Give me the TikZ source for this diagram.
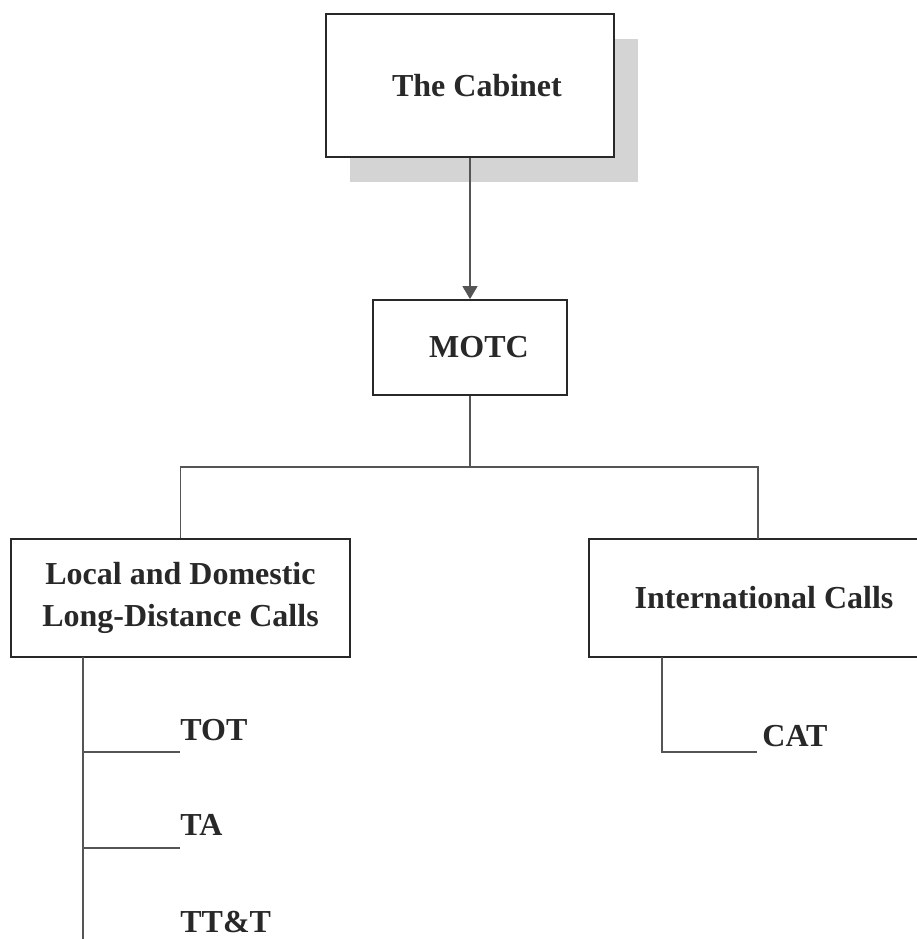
\documentclass[tikz,border=0pt]{standalone}
\usepackage{fontspec}
\setmainfont{Liberation Serif}
\definecolor{encre}{RGB}{40,40,40}
\definecolor{trait}{RGB}{85,85,85}
\definecolor{ombre}{RGB}{212,212,212}
\usepackage{tikz}
\usetikzlibrary{arrows.meta,positioning,calc,shadows}

\begin{document}
\begin{tikzpicture}[x=0.5pt,y=-0.5pt,
	font=\bfseries\fontsize{16}{21}\selectfont,
	boite/.style={draw=encre,line width=0.9pt,fill=white,text=encre,align=center,inner sep=0pt},
	lien/.style={draw=trait,line width=0.65pt},
	feuille/.style={text=encre,inner sep=0pt,anchor=base west}]
					\useasboundingbox (0,0) rectangle (917,939);
					\clip (0,0) rectangle (917,939);
					
					%% Cabinet (ombre en bas a droite)
					\node[boite,minimum width=144pt,minimum height=71.5pt,
					drop shadow={shadow xshift=12pt,shadow yshift=-12.5pt,fill=ombre,opacity=1}]
					(cab) at (470,85.5) {\hspace{7pt}The Cabinet};
					
					%% Ministere
					\node[boite,minimum width=97pt,minimum height=47.5pt] (motc) at (470,347.5) {\hspace{9pt}MOTC};
					\draw[lien,-{Triangle[length=6.5pt,width=7.5pt]}] (cab.south) -- (motc.north);
					
					%% Deux branches
					\node[boite,minimum width=169.5pt,minimum height=59pt] (local) at (180.5,598)
					{Local and Domestic\\Long-Distance Calls};
					\node[boite,minimum width=175pt,minimum height=59pt] (intl) at (764,598)
					{International Calls};
					\coordinate (bus) at (470,467);
					\coordinate (intlhaut) at (758,539);
					\draw[lien] (motc.south) -- (bus);
					\draw[lien] (local.north) |- (bus) -| (intlhaut);
					
					%% Operateurs locaux
					\coordinate (troncL) at (83,657);
					\coordinate (finL) at (83,939);
					\coordinate (b1) at (83,752);
					\coordinate (b2) at (83,848);
					\node[feuille] (tot) at (180,740) {TOT};
					\node[feuille] (ta) at (180,835) {TA};
					\node[feuille] (ttt) at (180,932) {TT\&T};
					\draw[lien] (troncL) -- (finL);
					\draw[lien] (b1) -- (b1 -| tot.west);
					\draw[lien] (b2) -- (b2 -| ta.west);
					
					%% Operateur international
					\coordinate (troncR) at (662,657);
					\coordinate (b3) at (757,752);
					\node[feuille] (cat) at (762,746) {CAT};
					\draw[lien] (troncR) |- (b3);
\end{tikzpicture}
\end{document}
